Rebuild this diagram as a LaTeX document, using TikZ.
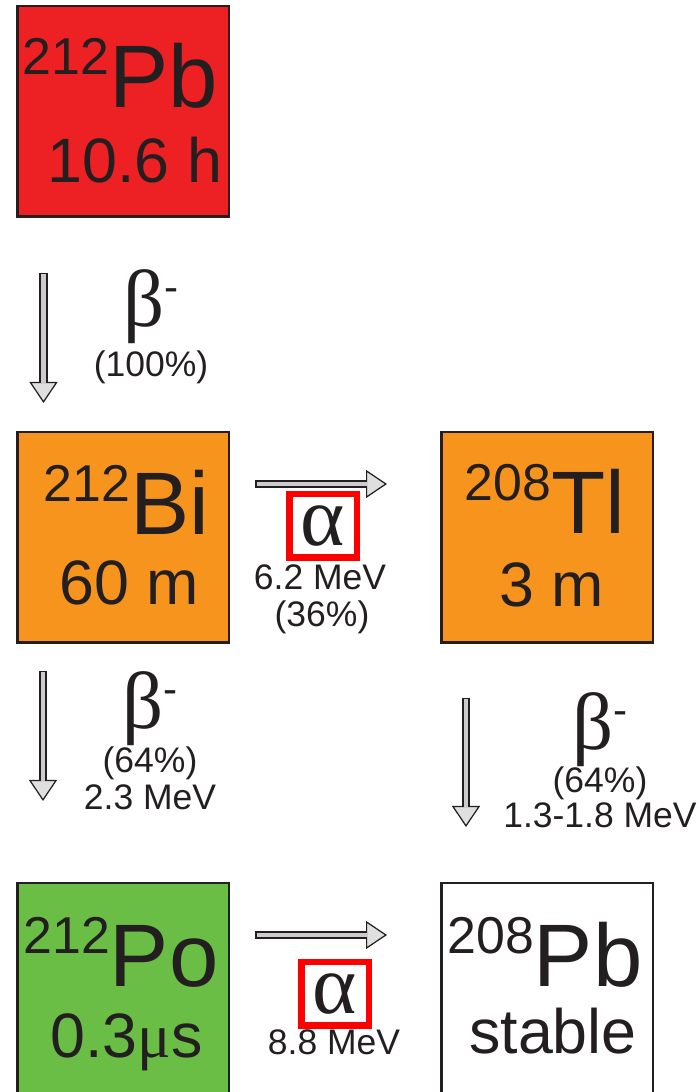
\documentclass[tikz,border=0pt]{standalone}
\usepackage{fontspec}
\setmainfont{Liberation Sans}
\newfontfamily\greekfont{Liberation Serif}
\usetikzlibrary{arrows.meta}
\definecolor{nucred}{HTML}{ED2024}
\definecolor{nucorange}{HTML}{F7941D}
\definecolor{nucgreen}{HTML}{6ABD45}
\definecolor{inkgray}{HTML}{231F20}
\newcommand{\massno}[1]{\raisebox{0.66cm}{\fontsize{29.5}{30}\selectfont #1}}
\newcommand{\betaminus}{β\raisebox{0.50cm}{\fontfamily{\familydefault}\fontsize{24}{24}\selectfont -}}

\begin{document}
\begin{tikzpicture}[line width=0.6pt,
  nucbox/.style={draw=inkgray, line width=0.05cm, minimum width=4.23cm, minimum height=4.21cm, inner sep=0pt},
  symtext/.style={anchor=base, inner sep=0pt, text=inkgray, font=\fontsize{50.5}{52}\selectfont},
  timetext/.style={anchor=base, inner sep=0pt, text=inkgray, font=\fontsize{35.7}{36}\selectfont},
  alphabox/.style={draw=red, line width=0.13cm, minimum width=1.35cm, minimum height=1.27cm, inner sep=0pt, text=inkgray, font=\greekfont\fontsize{48}{48}\selectfont},
  greek/.style={anchor=base, inner sep=0pt, text=inkgray, font=\greekfont\fontsize{46}{46}\selectfont},
  small/.style={anchor=base, inner sep=0pt, text=inkgray, font=\fontsize{20.2}{21}\selectfont},
  decay/.style={draw=inkgray, line width=0.16cm, -{Triangle[length=0.42cm, width=0.56cm, fill=gray!25, line width=0.7pt]}, postaction={draw=gray!40, line width=0.09cm, -, shorten <=0.03cm, shorten >=0.38cm}}]
  \useasboundingbox (0,0) rectangle (14,21.84);
  % nuclides
  \node[nucbox, fill=nucred] (pb212) at (2.46,19.61) {};
  \node[nucbox, fill=nucorange] (bi212) at (2.46,11.09) {};
  \node[nucbox, fill=nucorange] (tl208) at (10.94,11.09) {};
  \node[nucbox, fill=nucgreen] (po212) at (2.46,2.07) {};
  \node[nucbox, fill=white] (pb208) at (10.94,2.07) {};
  \node[symtext] (pb212sym) at (2.41,19.68) {\massno{212}Pb};
  \node[timetext] (pb212t) at (2.70,18.18) {10.6 h};
  \node[symtext] (bi212sym) at (2.53,11.14) {\massno{212}Bi};
  \node[timetext] (bi212t) at (2.58,9.74) {60 m};
  \node[symtext] (tl208sym) at (10.90,11.16) {\massno{208}Tl};
  \node[timetext] (tl208t) at (11.04,9.70) {3 m};
  \node[symtext] (po212sym) at (2.42,2.10) {\massno{212}Po};
  \node[timetext] (po212t) at (2.53,0.68) {0.3{\greekfont μ}s};
  \node[symtext] (pb208sym) at (10.90,2.10) {\massno{208}Pb};
  \node[timetext] (pb208t) at (11.06,0.78) {stable};
  % decays
  \coordinate (d1s) at (0.87,16.38);
  \coordinate (d1e) at (0.87,13.78);
  \coordinate (d2s) at (0.86,8.42);
  \coordinate (d2e) at (0.86,5.82);
  \coordinate (d3s) at (9.32,7.88);
  \coordinate (d3e) at (9.32,5.30);
  \coordinate (d4s) at (5.10,12.16);
  \coordinate (d4e) at (7.74,12.16);
  \coordinate (d5s) at (5.10,3.14);
  \coordinate (d5e) at (7.74,3.14);
  \draw[decay] (d1s) -- (d1e);
  \draw[decay] (d2s) -- (d2e);
  \draw[decay] (d3s) -- (d3e);
  \draw[decay] (d4s) -- (d4e);
  \draw[decay] (d5s) -- (d5e);
  % labels
  \node[greek] (beta1) at (3.02,15.30) {\betaminus};
  \node[small] (beta1pct) at (3.02,14.30) {(100\%)};
  \node[greek] (beta2) at (3.00,7.26) {\betaminus};
  \node[small] (beta2pct) at (3.00,6.38) {(64\%)};
  \node[small] (beta2e) at (3.00,5.64) {2.3 MeV};
  \node[greek] (beta3) at (12.00,6.84) {\betaminus};
  \node[small] (beta3pct) at (12.00,5.98) {(64\%)};
  \node[small] (beta3e) at (12.00,5.28) {1.3-1.8 MeV};
  \node[alphabox] (alpha1) at (6.46,11.32) {α};
  \node[small] (alpha1e) at (6.40,10.04) {6.2 MeV};
  \node[small] (alpha1pct) at (6.44,9.30) {(36\%)};
  \node[alphabox] (alpha2) at (6.70,1.96) {α};
  \node[small] (alpha2e) at (6.68,0.74) {8.8 MeV};
\end{tikzpicture}
\end{document}
